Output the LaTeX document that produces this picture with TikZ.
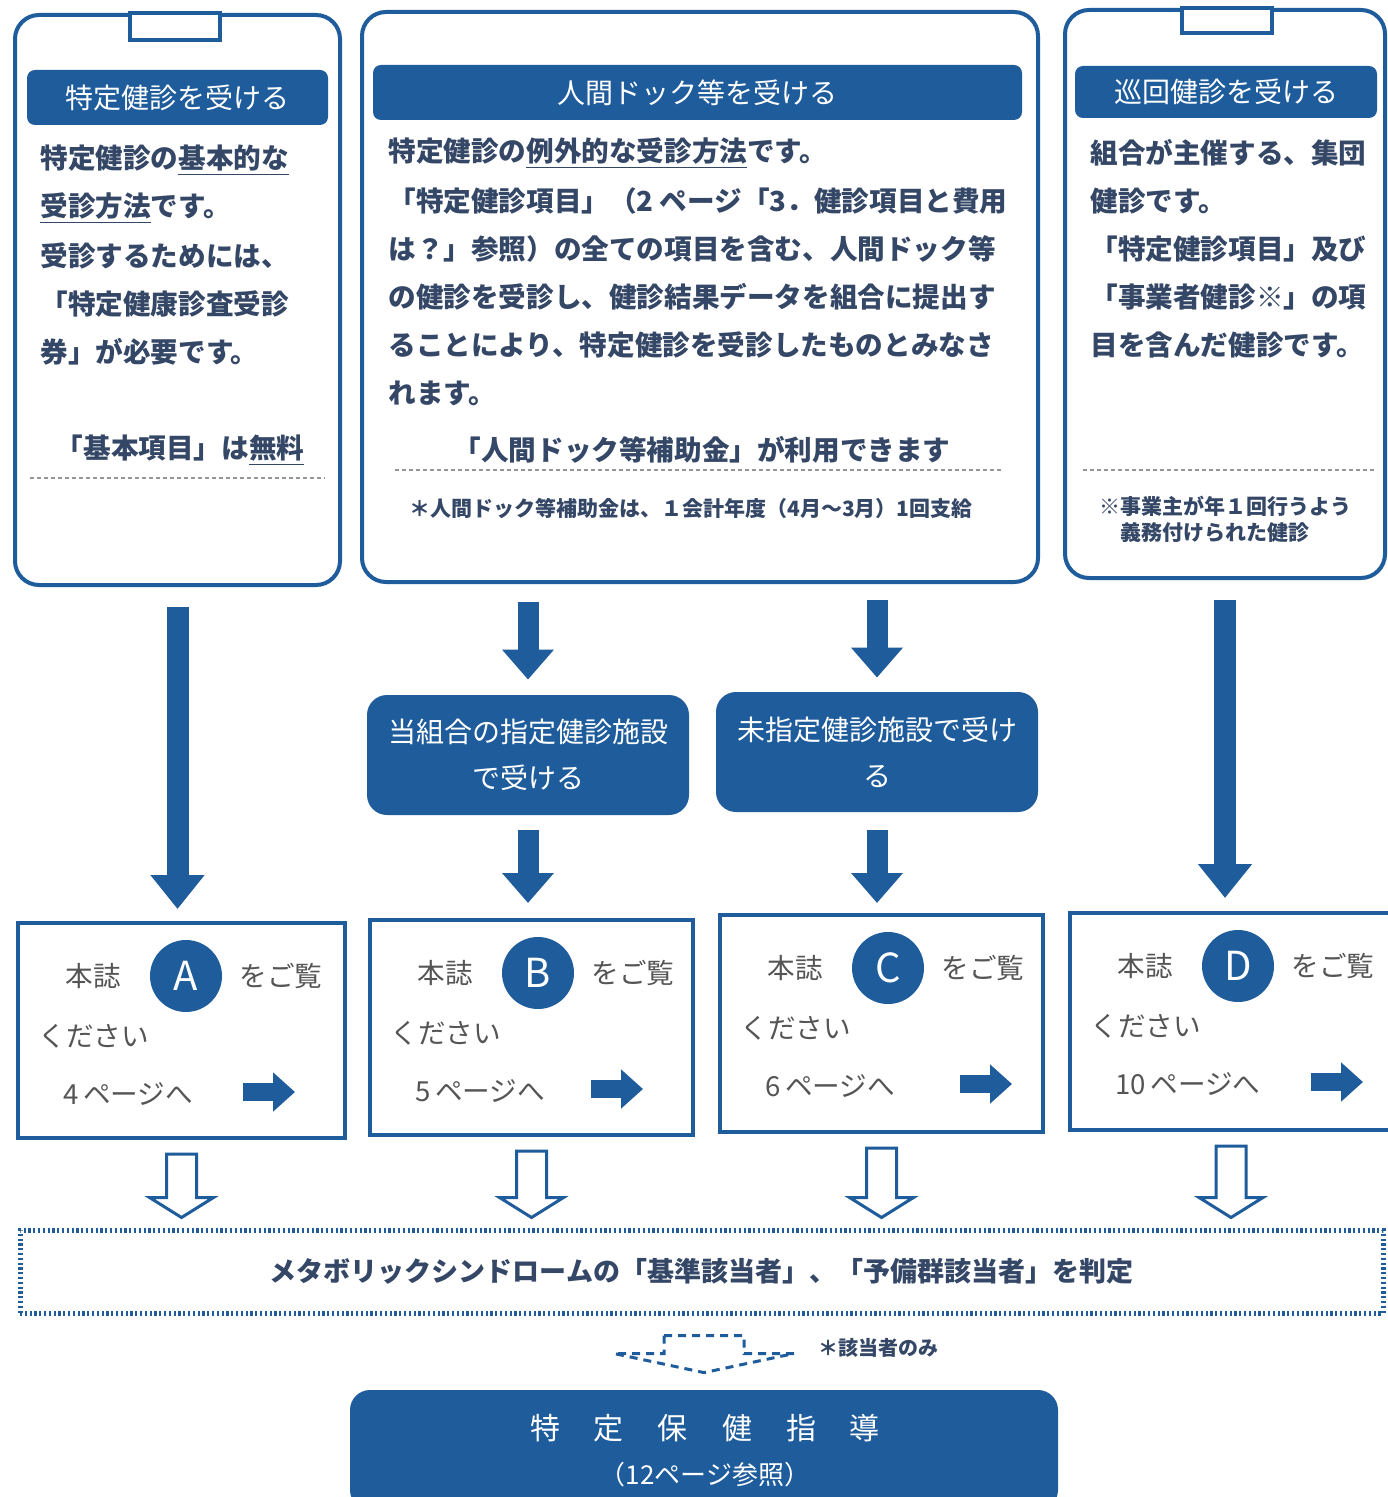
\documentclass[tikz,border=0pt]{standalone}
\usepackage{fontspec}
\setmainfont{Noto Sans CJK JP}
\usetikzlibrary{arrows.meta,calc}
\definecolor{mblue}{RGB}{31,92,155}
\definecolor{btext}{RGB}{53,71,102}
\definecolor{gtext}{RGB}{85,85,85}
\definecolor{septxt}{RGB}{150,150,150}
\tikzset{
  topbox/.style={draw=mblue, line width=2pt, rounded corners=12pt, fill=white, inner sep=0pt},
  tabrect/.style={draw=mblue, line width=2pt, fill=white},
  hdr/.style={fill=mblue, rounded corners=4pt, text=white, font=\fontsize{14pt}{16pt}\selectfont, inner sep=0pt},
  bodytxt/.style={text=btext, font=\fontsize{13.8pt}{16pt}\selectfont\bfseries, inner sep=0pt, anchor=west},
  bodyctr/.style={text=btext, font=\fontsize{13.8pt}{16pt}\selectfont\bfseries, inner sep=0pt},
  smalltxt/.style={text=btext, font=\fontsize{10.5pt}{12pt}\selectfont\bfseries, inner sep=0pt},
  sepline/.style={draw=septxt, line width=0.7pt, dash pattern=on 2pt off 1.5pt},
  pbox/.style={fill=mblue, rounded corners=10pt, text=white, align=center, inner sep=0pt, font=\fontsize{14pt}{23pt}\selectfont},
  infobox/.style={draw=mblue, line width=2pt, fill=white, inner sep=0pt},
  gtxt/.style={text=gtext, font=\fontsize{13.8pt}{16pt}\selectfont, inner sep=0pt, anchor=west},
  lettercirc/.style={circle, fill=mblue, text=white, minimum size=36pt, inner sep=0pt, font=\fontsize{20pt}{22pt}\selectfont},
  bigarrow/.style={draw=mblue, line width=11pt, -{Triangle[width=26pt,length=17pt]}},
  bigarrowb/.style={draw=mblue, line width=10.5pt, -{Triangle[width=25pt,length=15pt]}},
  smallarrow/.style={draw=mblue, line width=9pt, -{Triangle[width=19pt,length=11pt]}},
  hollowarr/.style={draw=mblue, line width=1.5pt, fill=white, line join=miter},
  dottedbox/.style={draw=mblue, line width=2.5pt, dash pattern=on 1.1pt off 1.3pt, inner sep=0pt,
     text=btext, font=\fontsize{13.5pt}{16pt}\selectfont\bfseries},
  dashedhollow/.style={draw=mblue, line width=1.5pt, dash pattern=on 4pt off 3pt},
}
\newcommand\hollowdown[2]{%
  \draw[hollowarr] let \p1=#1, \p2=#2 in
    (\x1-7.5pt,\y1-7pt) -- (\x1+7.5pt,\y1-7pt) -- (\x1+7.5pt,\y2+15pt) -- (\x1+16pt,\y2+15pt)
    -- (\x1,\y2+5pt) -- (\x1-16pt,\y2+15pt) -- (\x1-7.5pt,\y2+15pt) -- cycle;}
\newcommand\boxcontent[4]{%
  \node[gtxt, anchor=center] (#1-a) at ($(#1.north west)+(77,55)$) {本誌};
  \node[lettercirc] (#1-c) at ($(#1.north west)+(170,55)$) {#2};
  \node[gtxt, anchor=center] (#1-b) at ($(#1.north west)+(265,55)$) {をご覧};
  \node[gtxt] (#1-d) at ($(#1.north west)+(22,115)$) {ください};
  \node[gtxt] (#1-e) at ($(#1.north west)+(47,173)$) {#3};
  \coordinate (#1-s) at ($(#1.north west)+(#4,171)$);
  \coordinate (#1-t) at ($(#1.north west)+(#4+52,171)$);
  \draw[smallarrow] (#1-s) -- (#1-t);}
\begin{document}
\begin{tikzpicture}[x=0.5pt,y=-0.5pt]
\fill[white] (0,0) rectangle (1387,1497);
\useasboundingbox (0,0) rectangle (1387,1497);

% ---- top boxes
\node[topbox, minimum width=162.5pt, minimum height=285pt] (L) at (177.5,300) {};
\node[topbox, minimum width=338pt, minimum height=285pt] (M) at (700,297) {};
\node[topbox, minimum width=160pt, minimum height=284pt] (R) at (1225,294) {};
\draw[tabrect] ($(L.north)+(-47.5,0)$) rectangle ($(L.north)+(42.5,27)$);
\draw[tabrect] ($(R.north)+(-43,0)$) rectangle ($(R.north)+(47,25)$);

\node[hdr, minimum width=150.5pt, minimum height=27.5pt] (LH) at (177.5,97.5) {特定健診を受ける};
\node[hdr, minimum width=324.5pt, minimum height=27.5pt] (MH) at (697.5,92.5) {人間ドック等を受ける};
\node[hdr, minimum width=151pt, minimum height=26pt] (RH) at (1226,92) {巡回健診を受ける};

% left body
\foreach \t [count=\i] in {{特定健診の\underline{基本的な}},{\underline{受診方法}です。},{受診するためには、},{「特定健康診査受診},{券」が必要です。}}
  \node[bodytxt] (Lb\i) at (40,{160+48*(\i-1)}) {\t};
\node[bodyctr] (Lfree) at (180,450) {「基本項目」は\underline{無料}};
\draw[sepline] (30,478) -- (325,478);

% middle body
\foreach \t [count=\i] in {{特定健診の\underline{例外的な受診方法}です。},{「特定健診項目」（2 ページ「3．健診項目と費用},{は？」参照）の全ての項目を含む、人間ドック等},{の健診を受診し、健診結果データを組合に提出す},{ることにより、特定健診を受診したものとみなさ},{れます。}}
  \node[bodytxt] (Mb\i) at (388,{153+48*(\i-1)}) {\t};
\node[bodyctr] (Msub) at (702,450) {「人間ドック等補助金」が利用できます};
\draw[sepline] (395,470) -- (1003,470);
\node[smalltxt] (Mnote) at (691,509) {＊人間ドック等補助金は、１会計年度（4月～3月）1回支給};

% right body
\foreach \t [count=\i] in {{組合が主催する、集団},{健診です。},{「特定健診項目」及び},{「事業者健診※」の項},{目を含んだ健診です。}}
  \node[bodytxt] (Rb\i) at (1090,{153+48*(\i-1)}) {\t};
\draw[sepline] (1083,470) -- (1375,470);
\node[smalltxt] (Rn1) at (1225,506) {※事業主が年１回行うよう};
\node[smalltxt] (Rn2) at (1215,533) {義務付けられた健診};

% ---- middle filled boxes
\node[pbox, minimum width=161pt, minimum height=60pt] (P1) at (528,755) {当組合の指定健診施設\\で受ける};
\node[pbox, minimum width=161pt, minimum height=60pt] (P2) at (877,752) {未指定健診施設で受け\\る};

% ---- bottom info boxes
\node[infobox, minimum width=163.5pt, minimum height=107.5pt] (A) at (181.5,1030.5) {};
\node[infobox, minimum width=161.5pt, minimum height=107.5pt] (B) at (531.5,1027.5) {};
\node[infobox, minimum width=161.5pt, minimum height=108.5pt] (C) at (881.5,1023.5) {};
\node[infobox, minimum width=161pt, minimum height=108.5pt] (D) at (1231,1021.5) {};
\boxcontent{A}{A}{4\,ページへ}{227}
\boxcontent{B}{B}{5\,ページへ}{223}
\boxcontent{C}{C}{6\,ページへ}{242}
\boxcontent{D}{D}{10\,ページへ}{243}

% ---- solid arrows
\draw[bigarrow, shorten <=10pt, shorten >=6pt] (L.south) -- (L.south |- A.north);
\draw[bigarrowb, shorten <=9pt, shorten >=7.5pt] (M.south -| P1.north) -- (P1.north);
\draw[bigarrowb, shorten <=8pt, shorten >=7pt] (M.south -| P2.north) -- (P2.north);
\draw[bigarrow, shorten <=10pt, shorten >=6.5pt] (R.south) -- (R.south |- D.north);
\draw[bigarrowb, shorten <=7.5pt, shorten >=7.5pt] (P1.south) -- (P1.south |- B.north);
\draw[bigarrowb, shorten <=9pt, shorten >=5pt] (P2.south) -- (P2.south |- C.north);

% ---- metabolic box
\node[dottedbox, minimum width=681.5pt, minimum height=41.5pt] (Z) at (701.5,1271.5) {メタボリックシンドロームの「基準該当者」、「予備群該当者」を判定};

\hollowdown{(A.south)}{(A.south |- Z.north)}
\hollowdown{(B.south)}{(B.south |- Z.north)}
\hollowdown{(C.south)}{(C.south |- Z.north)}
\hollowdown{(D.south)}{(D.south |- Z.north)}

% ---- final box
\node[pbox, minimum width=354pt, minimum height=60pt] (F) at (704,1450) {};
\node[text=white, inner sep=0pt, font=\fontsize{15pt}{16pt}\selectfont] (F1) at (705,1428) {特\hspace{17pt}定\hspace{17pt}保\hspace{17pt}健\hspace{17pt}指\hspace{17pt}導};
\node[text=white, inner sep=0pt, font=\fontsize{13pt}{16pt}\selectfont] (F2) at (705,1475) {（12ページ参照）};

\draw[dashedhollow] let \p1=(Z.south), \p2=(F.north) in
  (\x2-20pt,\y1-10pt) -- (\x2+20pt,\y1-10pt) -- (\x2+20pt,\y1-19pt) -- (\x2+45pt,\y1-19pt)
  -- (\x2,\y2+8.5pt) -- (\x2-45pt,\y1-19pt) -- (\x2-20pt,\y1-19pt) -- cycle;
\node[smalltxt, anchor=west, font=\fontsize{10pt}{12pt}\selectfont\bfseries] (only) at (818,1348) {＊該当者のみ};
\end{tikzpicture}
\end{document}
